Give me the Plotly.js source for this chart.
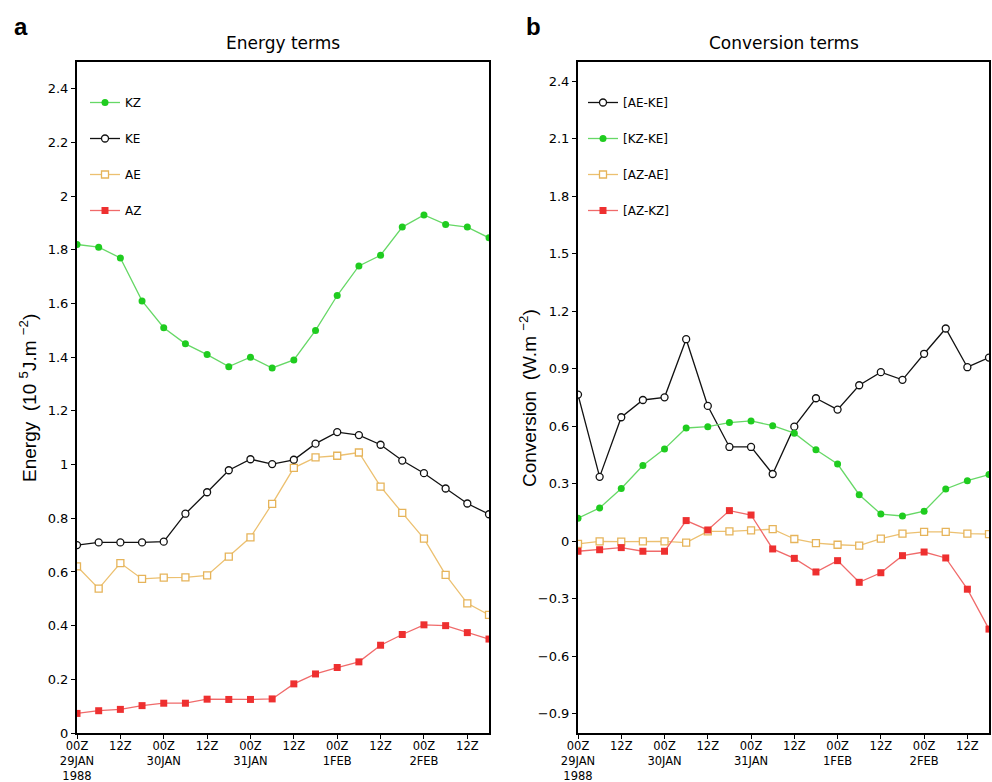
<!DOCTYPE html>
<html>
<head>
<meta charset="utf-8">
<script src="https://cdn.plot.ly/plotly-3.0.1.min.js"></script>
<style>html,body{margin:0;padding:0;background:#fff;}#chart{width:992px;height:782px;}</style>
</head>
<body>
<div id="chart"></div>
<script>
// ---- data ----
const times = ['1988-01-29 00:00','1988-01-29 06:00','1988-01-29 12:00','1988-01-29 18:00',
  '1988-01-30 00:00','1988-01-30 06:00','1988-01-30 12:00','1988-01-30 18:00',
  '1988-01-31 00:00','1988-01-31 06:00','1988-01-31 12:00','1988-01-31 18:00',
  '1988-02-01 00:00','1988-02-01 06:00','1988-02-01 12:00','1988-02-01 18:00',
  '1988-02-02 00:00','1988-02-02 06:00','1988-02-02 12:00','1988-02-02 18:00'];

const KZ = [1.82,1.81,1.77,1.61,1.51,1.45,1.41,1.365,1.40,1.36,1.39,1.50,1.63,1.74,1.78,1.885,1.93,1.895,1.885,1.845];
const KE = [0.70,0.71,0.71,0.71,0.713,0.817,0.897,0.979,1.02,1.002,1.018,1.078,1.121,1.11,1.074,1.015,0.968,0.911,0.855,0.815];
const AE = [0.621,0.538,0.633,0.574,0.579,0.58,0.587,0.657,0.729,0.854,0.988,1.027,1.033,1.045,0.918,0.82,0.724,0.589,0.483,0.44];
const AZ = [0.073,0.083,0.088,0.102,0.111,0.111,0.126,0.125,0.125,0.127,0.183,0.22,0.244,0.265,0.327,0.367,0.403,0.40,0.374,0.35];

const AE_KE = [0.765,0.336,0.647,0.737,0.751,1.054,0.706,0.492,0.492,0.351,0.598,0.746,0.687,0.814,0.882,0.842,0.978,1.11,0.908,0.958];
const KZ_KE = [0.12,0.174,0.275,0.395,0.482,0.591,0.598,0.619,0.628,0.603,0.564,0.477,0.403,0.243,0.142,0.132,0.157,0.273,0.316,0.348];
const AZ_AE = [-0.014,0,-0.002,0,0,-0.007,0.052,0.052,0.057,0.063,0.012,-0.01,-0.018,-0.023,0.014,0.04,0.049,0.049,0.04,0.037];
const AZ_KZ = [-0.052,-0.044,-0.033,-0.052,-0.052,0.108,0.059,0.16,0.137,-0.04,-0.089,-0.16,-0.101,-0.214,-0.164,-0.075,-0.056,-0.087,-0.25,-0.458];

const tickVals = ['1988-01-29 00:00','1988-01-29 12:00','1988-01-30 00:00','1988-01-30 12:00',
  '1988-01-31 00:00','1988-01-31 12:00','1988-02-01 00:00','1988-02-01 12:00','1988-02-02 00:00','1988-02-02 12:00'];
const tickText = ['00Z<br>29JAN<br>1988','12Z','00Z<br>30JAN','12Z','00Z<br>31JAN','12Z','00Z<br>1FEB','12Z','00Z<br>2FEB','12Z'];

// ---- styles ----
const FONT = '"DejaVu Sans", Verdana, sans-serif';
const AFONT = '"Liberation Sans", Arial, sans-serif';
const GREEN = {line:'#66d866', marker:'#1fcc1f'};
const BLACK = {line:'#111111', marker:'#111111'};
const ORANGE = {line:'#ecc070', marker:'#e6b45a'};
const RED = {line:'#f06a6a', marker:'#ee3030'};

function tr(name, y, col, sym, open, xa, ya, leg, grp) {
  return {
    type:'scatter', mode:'lines+markers', name:name, x:times, y:y,
    xaxis:xa, yaxis:ya, legend:leg, legendgroup:grp,
    line:{color:col.line, width:1.3},
    marker:{symbol:sym, size:7, color: open ? '#ffffff' : col.marker,
            line:{color:col.marker, width: open ? 1.3 : 0}}
  };
}

const data = [
  tr('KZ', KZ, GREEN, 'circle', false, 'x', 'y', 'legend', 'a1'),
  tr('KE', KE, BLACK, 'circle', true, 'x', 'y', 'legend', 'a2'),
  tr('AE', AE, ORANGE, 'square', true, 'x', 'y', 'legend', 'a3'),
  tr('AZ', AZ, RED, 'square', false, 'x', 'y', 'legend', 'a4'),
  tr('[AE-KE]', AE_KE, BLACK, 'circle', true, 'x2', 'y2', 'legend2', 'b1'),
  tr('[KZ-KE]', KZ_KE, GREEN, 'circle', false, 'x2', 'y2', 'legend2', 'b2'),
  tr('[AZ-AE]', AZ_AE, ORANGE, 'square', true, 'x2', 'y2', 'legend2', 'b3'),
  tr('[AZ-KZ]', AZ_KZ, RED, 'square', false, 'x2', 'y2', 'legend2', 'b4')
];

const xBase = {
  type:'date', range:[times[0], times[times.length-1]],
  tickmode:'array', tickvals:tickVals, ticktext:tickText,
  ticks:'outside', ticklen:4, tickwidth:1, tickcolor:'#000',
  showline:true, linecolor:'#000', linewidth:2, mirror:true,
  showgrid:false, zeroline:false, automargin:false, ticklabelstandoff:-3,
  tickfont:{family:FONT, size:11.5, color:'#000'}
};
const yBase = {
  ticks:'outside', ticklen:4, tickwidth:1, tickcolor:'#000',
  showline:true, linecolor:'#000', linewidth:2, mirror:true,
  showgrid:false, zeroline:false, automargin:false,
  tickfont:{family:FONT, size:13, color:'#000'}
};
const legBase = {
  xanchor:'left', yanchor:'top', bgcolor:'rgba(0,0,0,0)', borderwidth:0,
  font:{family:FONT, size:12, color:'#000'},
  traceorder:'grouped', tracegroupgap:17, itemclick:false
};

const layout = {
  width:992, height:782, margin:{l:0, r:0, t:0, b:0},
  paper_bgcolor:'#fff', plot_bgcolor:'#fff', showlegend:true,
  xaxis: Object.assign({}, xBase, {domain:[77/992, 489/992], anchor:'y'}),
  xaxis2: Object.assign({}, xBase, {domain:[578/992, 989/992], anchor:'y2'}),
  yaxis: Object.assign({}, yBase, {domain:[49/782, 720/782], anchor:'x', range:[0, 2.5], dtick:0.2, tick0:0}),
  yaxis2: Object.assign({}, yBase, {domain:[49/782, 720/782], anchor:'x2', range:[-1, 2.5], dtick:0.3, tick0:0}),
  legend: Object.assign({}, legBase, {x:85/992, y:(782-88)/782}),
  legend2: Object.assign({}, legBase, {x:583/992, y:(782-88)/782}),
  annotations:[
    {text:'<b>a</b>', xref:'paper', yref:'paper', x:12/992, y:(782-27)/782, xanchor:'left', yanchor:'middle', showarrow:false, font:{family:AFONT, size:24, color:'#000'}},
    {text:'<b>b</b>', xref:'paper', yref:'paper', x:524/992, y:(782-27)/782, xanchor:'left', yanchor:'middle', showarrow:false, font:{family:AFONT, size:24, color:'#000'}},
    {text:'Energy terms', xref:'x domain', yref:'paper', x:0.5, y:(782-43)/782, xanchor:'center', yanchor:'middle', showarrow:false, font:{family:FONT, size:17, color:'#000'}},
    {text:'Conversion terms', xref:'x2 domain', yref:'paper', x:0.5, y:(782-43)/782, xanchor:'center', yanchor:'middle', showarrow:false, font:{family:FONT, size:17, color:'#000'}},
    {text:'Energy  (10 <sup>5</sup>J.m <sup>−2</sup>)', xref:'paper', yref:'paper', x:28/992, y:(782-398)/782, xanchor:'center', yanchor:'middle', textangle:-90, showarrow:false, font:{family:AFONT, size:19, color:'#000'}},
    {text:'Conversion  (W.m <sup>−2</sup>)', xref:'paper', yref:'paper', x:528/992, y:(782-398)/782, xanchor:'center', yanchor:'middle', textangle:-90, showarrow:false, font:{family:AFONT, size:19, color:'#000'}}
  ]
};

Plotly.newPlot('chart', data, layout, {displayModeBar:false, staticPlot:true});
</script>
</body>
</html>
